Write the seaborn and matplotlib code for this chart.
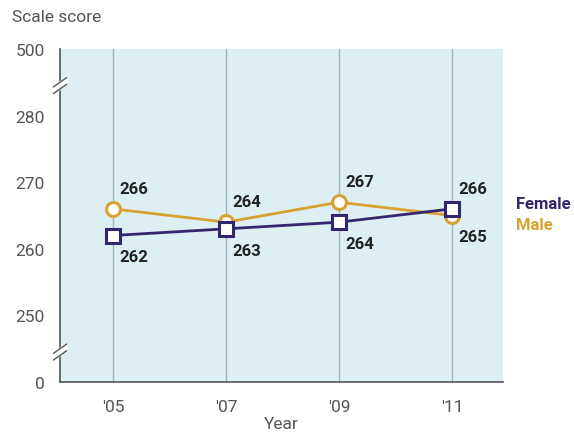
import pandas as pd
import matplotlib.pyplot as plt
import seaborn as sns

# Data
years = [2005, 2007, 2009, 2011]
year_labels = ["'05", "'07", "'09", "'11"]
female = [262, 263, 264, 266]
male = [266, 264, 267, 265]

# Broken axis: 500 drawn at 290, 0 drawn at 240
ytick_pos = [240, 250, 260, 270, 280, 290]
ytick_labels = ['0', '250', '260', '270', '280', '500']

df = pd.DataFrame({
    'year': years * 2,
    'score': female + male,
    'group': ['Female'] * 4 + ['Male'] * 4,
})

sns.set_style('white')
plt.rcParams['font.family'] = ['Roboto', 'DejaVu Sans']

female_color = '#35246e'
male_color = '#d8a232'
text_color = '#555555'

fig = plt.figure(figsize=(5.74, 4.35), dpi=100)
ax = fig.add_axes([0.1045, 0.1195, 0.7715, 0.7655])
ax.set_facecolor('#deeff4')

for x in years:
    ax.axvline(x, color='#a3b2b8', lw=1, zorder=1)

sns.lineplot(data=df[df.group == 'Male'], x='year', y='score', color=male_color,
             lw=2, marker='o', markersize=10, markerfacecolor='white',
             markeredgecolor=male_color, markeredgewidth=2.2, ax=ax, zorder=3)
sns.lineplot(data=df[df.group == 'Female'], x='year', y='score', color=female_color,
             lw=2, marker='s', markersize=10, markerfacecolor='white',
             markeredgecolor=female_color, markeredgewidth=2.2, ax=ax, zorder=4)

# value labels
label_kw = dict(fontsize=12, fontweight='bold', color='#222222')
for i, (x, v) in enumerate(zip(years, male)):
    dy = -3.1 if i == 3 else 3.1
    ax.text(x + 0.12, v + dy, str(v), ha='left', va='center', **label_kw)
for i, (x, v) in enumerate(zip(years, female)):
    dy = 3.1 if i == 3 else -3.2
    ax.text(x + 0.12, v + dy, str(v), ha='left', va='center', **label_kw)

ax.set_xlim(2004.06, 2011.9)
ax.set_ylim(240, 290)
ax.set_xticks(years)
ax.set_xticklabels(year_labels)
ax.set_yticks(ytick_pos)
ax.set_yticklabels(ytick_labels)
ax.tick_params(axis='both', length=7, width=1, color=text_color, labelcolor=text_color,
               labelsize=12.5, direction='out')
ax.tick_params(axis='y', pad=4)
ax.tick_params(axis='x', pad=5)
ax.set_xlabel('Year', fontsize=12.5, color=text_color, labelpad=2)
ax.set_ylabel('')

for s in ['top', 'right']:
    ax.spines[s].set_visible(False)
for s in ['left', 'bottom']:
    ax.spines[s].set_color(text_color)
    ax.spines[s].set_linewidth(1.2)

# axis break marks
for yb in [285, 245]:
    ax.plot([-0.012, 0.012], [yb - 1.2, yb + 0.2], transform=ax.get_yaxis_transform(),
            color='white', lw=5, clip_on=False, zorder=5)
    for off in [-0.5, 0.5]:
        ax.plot([-0.015, 0.015], [yb - 1.2 + off, yb + 0.2 + off],
                transform=ax.get_yaxis_transform(), color=text_color, lw=1,
                clip_on=False, zorder=6)

fig.text(12 / 574, 1 - 18 / 435, 'Scale score', fontsize=12.5, color=text_color,
         ha='left', va='center')
fig.text(516 / 574, 1 - 205 / 435, 'Female', fontsize=12, fontweight='bold',
         color=female_color, ha='left', va='center')
fig.text(516 / 574, 1 - 226 / 435, 'Male', fontsize=12, fontweight='bold',
         color=male_color, ha='left', va='center')

plt.savefig('out.png', dpi=100)
